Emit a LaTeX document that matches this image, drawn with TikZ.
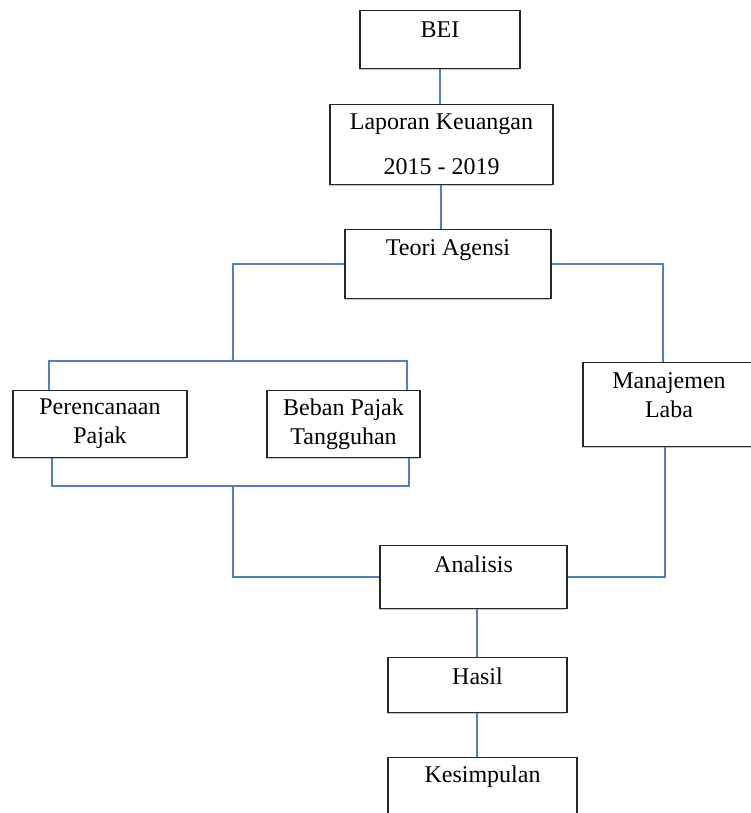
\documentclass[tikz,border=0pt]{standalone}
\usepackage{fontspec}
\setmainfont{Liberation Serif}
\usetikzlibrary{shadows}
\definecolor{linkblue}{RGB}{79,129,189}

\begin{document}
\begin{tikzpicture}[
  x=1pt, y=-1pt,
  box/.style={
    draw=black!85,
    line width=1.3pt,
    fill=white,
    anchor=north,
    inner sep=0pt,
    align=center,
    font=\fontsize{24}{29}\selectfont,
    drop shadow={shadow xshift=-1pt, shadow yshift=-1.5pt, opacity=0.45}
  },
  link/.style={
    draw=linkblue,
    line width=1.4pt
  }
]
  \clip (0,0) rectangle (751,813);

  % Top column
  \node[box, minimum width=160pt, text height=27pt, text depth=31pt] (bei) at (440,10) {BEI};
  \node[box, minimum width=223pt, minimum height=80pt] (lap) at (441.5,104) {Laporan Keuangan\\[16pt]2015 - 2019};
  \node[box, minimum width=206pt, text height=26pt, text depth=43pt] (teori) at (448,229) {Teori Agensi};

  % Middle row
  \node[box, minimum width=174pt, minimum height=67pt] (per) at (100,390) {Perencanaan\\Pajak};
  \node[box, minimum width=153pt, minimum height=67pt] (beban) at (343.5,390) {Beban Pajak\\Tangguhan};
  \node[box, minimum width=172pt, minimum height=84pt] (mana) at (669,362) {Manajemen\\Laba\\[-9pt]\mbox{}};

  % Bottom column
  \node[box, minimum width=187pt, text height=27pt, text depth=36pt] (anal) at (473.5,545) {Analisis};
  \node[box, minimum width=179pt, text height=27pt, text depth=28pt] (hasil) at (477.5,657) {Hasil};
  \node[box, minimum width=189pt, text height=25pt, text depth=60pt] (kes) at (482.5,757) {Kesimpulan};

  \coordinate (split) at (233,361);
  \coordinate (join) at (233,486);

  % Connectors
  \draw[link] (bei.south) -- (bei.south |- lap.north);
  \draw[link] ([xshift=-0.5pt]lap.south) -- ([xshift=-0.5pt]lap.south |- teori.north);
  \draw[link] (teori.west) -| (split);
  \draw[link] ([xshift=-51pt]per.north) |- (split) -| ([xshift=63.5pt]beban.north);
  \draw[link] (teori.east) -| ([xshift=-6pt]mana.north);
  \draw[link] ([xshift=-48pt]per.south) |- (join) -| ([xshift=65.5pt]beban.south);
  \draw[link] (join) |- (anal.west);
  \draw[link] ([xshift=-4pt]mana.south) |- (anal.east);
  \draw[link] ([xshift=-0.5pt]hasil.north |- anal.south) -- ([xshift=-0.5pt]hasil.north);
  \draw[link] ([xshift=-0.5pt]hasil.south) -- ([xshift=-0.5pt]hasil.south |- kes.north);
\end{tikzpicture}
\end{document}
